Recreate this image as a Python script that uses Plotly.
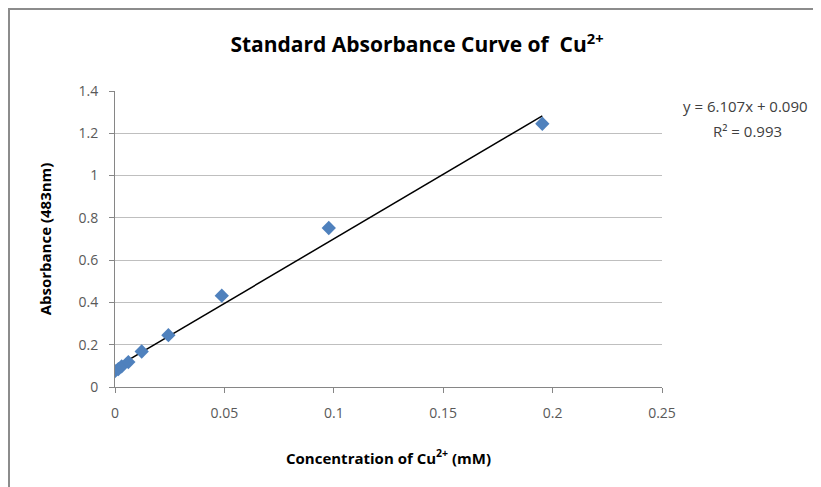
import plotly.graph_objects as go

# Data
conc_mM = [0.0, 0.00153, 0.00305, 0.0061, 0.0122, 0.0244, 0.0488, 0.0977, 0.1953]
absorbance = [0.075, 0.085, 0.098, 0.118, 0.168, 0.245, 0.432, 0.752, 1.245]
trend_slope = 6.107
trend_intercept = 0.090
r_squared = 0.993
x_ticks = [0, 0.05, 0.1, 0.15, 0.2, 0.25]
x_tick_labels = ["0", "0.05", "0.1", "0.15", "0.2", "0.25"]
y_ticks = [0, 0.2, 0.4, 0.6, 0.8, 1.0, 1.2, 1.4]
y_tick_labels = ["0", "0.2", "0.4", "0.6", "0.8", "1", "1.2", "1.4"]

FONT = "Open Sans"

trend_x = [min(conc_mM), max(conc_mM)]
trend_y = [trend_slope * v + trend_intercept for v in trend_x]

fig = go.Figure()
fig.add_trace(go.Scatter(
    x=trend_x, y=trend_y, mode="lines",
    line=dict(color="#000000", width=1.5),
    showlegend=False, hoverinfo="skip",
))
fig.add_trace(go.Scatter(
    x=conc_mM, y=absorbance, mode="markers",
    marker=dict(symbol="diamond", size=11, color="#4F81BD", line=dict(width=0)),
    showlegend=False,
))

# page has an 8px body margin; compensate so the plot sits where the reference has it
OFF = 8
W, H = 821 - OFF, 487 - OFF
L, R, T, B = 115 - OFF, 159, 91 - OFF, 100
pw = W - L - R
ph = H - T - B

def px_to_paper_x(px):
    return (px - OFF - L) / pw

def px_to_paper_y(py):
    return (H - B - (py - OFF)) / ph

fig.update_layout(
    width=W, height=H,
    margin=dict(l=L, r=R, t=T, b=B),
    paper_bgcolor="white", plot_bgcolor="white",
    font=dict(family=FONT, color="#404040"),
    title=dict(
        text="<b>Standard Absorbance Curve of  Cu<sup>2+</sup></b>",
        xref="paper", x=px_to_paper_x(417), xanchor="center",
        yref="container", y=1 - (45 - OFF) / H, yanchor="middle",
        font=dict(family=FONT, size=21, color="#000000"),
    ),
    xaxis=dict(
        range=[0, 0.25], tickvals=x_ticks, ticktext=x_tick_labels,
        showgrid=False, zeroline=False,
        showline=True, linecolor="#868686", linewidth=1,
        ticks="outside", ticklen=5, tickcolor="#868686",
        ticklabelstandoff=8,
        tickfont=dict(family=FONT, size=14, color="#595959"),
        title=dict(text="<b>Concentration of Cu<sup>2+</sup> (mM)</b>",
                   font=dict(family=FONT, size=15, color="#000000"), standoff=32),
    ),
    yaxis=dict(
        range=[0, 1.4], tickvals=y_ticks, ticktext=y_tick_labels,
        showgrid=True, gridcolor="#BFBFBF", gridwidth=1, zeroline=False,
        showline=True, linecolor="#868686", linewidth=1,
        ticks="outside", ticklen=5, tickcolor="#868686",
        ticklabelstandoff=8,
        tickfont=dict(family=FONT, size=14, color="#595959"),
        title=dict(text="<b>Absorbance (483nm)</b>",
                   font=dict(family=FONT, size=15, color="#000000"), standoff=23),
    ),
    annotations=[
        dict(
            text=f"y = {trend_slope:.3f}x + {trend_intercept:.3f}",
            xref="paper", yref="paper",
            x=px_to_paper_x(745), y=px_to_paper_y(106),
            xanchor="center", yanchor="middle",
            showarrow=False, font=dict(family=FONT, size=15, color="#404040"),
        ),
        dict(
            text=f"R² = {r_squared:.3f}",
            xref="paper", yref="paper",
            x=px_to_paper_x(747), y=px_to_paper_y(131),
            xanchor="center", yanchor="middle",
            showarrow=False, font=dict(family=FONT, size=15, color="#404040"),
        ),
    ],
    shapes=[
        dict(type="line", xref="paper", yref="paper",
             x0=px_to_paper_x(8), x1=px_to_paper_x(821),
             y0=px_to_paper_y(9), y1=px_to_paper_y(9),
             line=dict(color="#8c8c8c", width=2)),
        dict(type="line", xref="paper", yref="paper",
             x0=px_to_paper_x(9), x1=px_to_paper_x(9),
             y0=px_to_paper_y(8), y1=px_to_paper_y(487),
             line=dict(color="#8c8c8c", width=2)),
    ],
)

fig.write_html("out.html")
